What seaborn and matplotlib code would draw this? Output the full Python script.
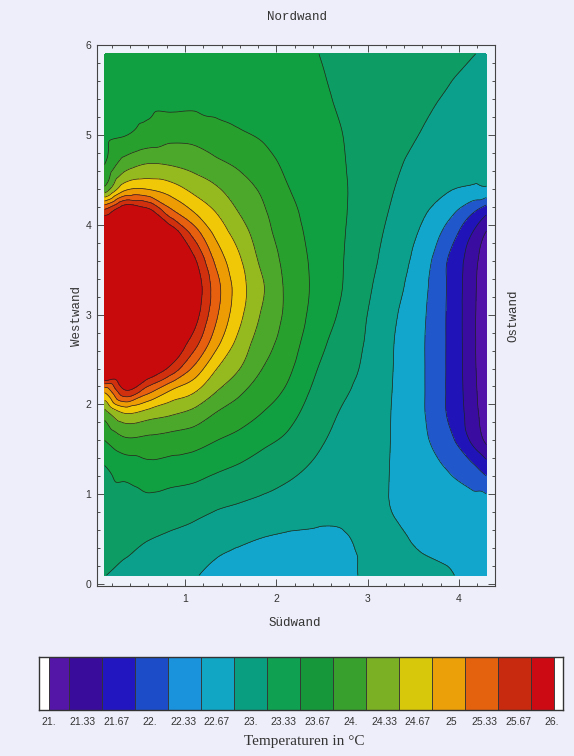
import numpy as np
import matplotlib
matplotlib.use("Agg")
import matplotlib.pyplot as plt
import matplotlib.tri as mtri
import seaborn as sns
from matplotlib.ticker import MultipleLocator

# ----------------------------
# Data
# ----------------------------

# grid positions (m): x along the Südwand, y along the Westwand
x_pos = [0.12, 0.35, 0.6, 0.85, 1.1, 1.35, 1.6, 1.85, 2.1, 2.4, 2.7, 3.0, 3.3, 3.6, 3.9, 4.15, 4.3]
y_pos = [0.1, 0.5, 0.9, 1.3, 1.6, 1.9, 2.15, 2.4, 2.7, 3.0, 3.3, 3.6, 3.9, 4.15, 4.4, 4.7, 5.0, 5.4, 5.9]

# temperature per column (bottom -> top), degrees C
t_x012 = [22.84, 22.96, 23.06, 23.15, 23.5, 24.02, 24.92, 26.9, 27.0, 27.0, 27.0, 26.9, 26.6, 25.61, 23.93, 23.47, 23.42, 23.37, 23.33]
t_x035 = [22.75, 22.92, 23.0, 23.32, 23.77, 24.5, 25.8, 26.4, 26.8, 27.0, 27.0, 26.9, 26.5, 26.2, 24.76, 23.96, 23.49, 23.4, 23.33]
t_x060 = [22.7, 22.84, 23.08, 23.42, 23.74, 24.35, 25.28, 26.2, 26.6, 26.8, 26.8, 26.7, 26.3, 25.95, 24.81, 24.13, 23.62, 23.42, 23.35]
t_x085 = [22.72, 22.79, 23.02, 23.38, 23.69, 24.21, 24.8, 25.73, 26.2, 26.5, 26.5, 26.4, 26.1, 25.24, 24.65, 24.1, 23.74, 23.4, 23.35]
t_x110 = [22.53, 22.72, 22.97, 23.33, 23.63, 24.06, 24.54, 25.09, 25.67, 26.0, 26.1, 25.9, 25.37, 24.81, 24.4, 24.02, 23.73, 23.42, 23.35]
t_x135 = [22.42, 22.6, 22.89, 23.22, 23.5, 23.81, 24.17, 24.5, 24.94, 25.2, 25.28, 25.06, 24.73, 24.47, 24.2, 23.88, 23.6, 23.43, 23.34]
t_x160 = [22.38, 22.54, 22.83, 23.13, 23.39, 23.66, 23.89, 24.17, 24.39, 24.58, 24.64, 24.54, 24.34, 24.14, 23.97, 23.76, 23.53, 23.42, 23.33]
t_x185 = [22.35, 22.49, 22.77, 23.03, 23.24, 23.49, 23.66, 23.83, 23.99, 24.12, 24.2, 24.08, 23.97, 23.88, 23.78, 23.61, 23.47, 23.4, 23.32]
t_x210 = [22.33, 22.46, 22.7, 22.94, 23.12, 23.31, 23.47, 23.6, 23.72, 23.79, 23.8, 23.76, 23.68, 23.61, 23.53, 23.45, 23.38, 23.33, 23.27]
t_x240 = [22.32, 22.45, 22.63, 22.8, 22.92, 23.03, 23.13, 23.22, 23.33, 23.42, 23.46, 23.45, 23.42, 23.4, 23.38, 23.34, 23.3, 23.25, 23.19]
t_x270 = [22.4, 22.47, 22.57, 22.66, 22.75, 22.82, 22.89, 22.96, 23.04, 23.13, 23.19, 23.2, 23.21, 23.22, 23.22, 23.2, 23.18, 23.13, 23.08]
t_x300 = [22.55, 22.55, 22.6, 22.64, 22.68, 22.71, 22.74, 22.77, 22.8, 22.83, 22.88, 22.93, 22.97, 23.0, 23.02, 23.03, 23.03, 23.02, 23.0]
t_x330 = [22.6, 22.55, 22.47, 22.46, 22.46, 22.46, 22.47, 22.48, 22.49, 22.53, 22.6, 22.66, 22.72, 22.78, 22.83, 22.88, 22.92, 22.94, 22.95]
t_x360 = [22.58, 22.45, 22.35, 22.28, 22.23, 22.2, 22.2, 22.2, 22.2, 22.22, 22.26, 22.33, 22.44, 22.55, 22.65, 22.74, 22.82, 22.87, 22.9]
t_x390 = [22.52, 22.42, 22.3, 22.13, 21.92, 21.77, 21.76, 21.76, 21.76, 21.76, 21.77, 21.78, 22.0, 22.26, 22.52, 22.65, 22.73, 22.81, 22.87]
t_x415 = [22.4, 22.36, 22.26, 21.9, 21.43, 21.32, 21.28, 21.26, 21.25, 21.25, 21.26, 21.3, 21.48, 21.88, 22.45, 22.6, 22.66, 22.74, 22.84]
t_x430 = [22.38, 22.3, 22.27, 21.67, 21.1, 20.95, 20.9, 20.85, 20.85, 20.85, 20.9, 20.95, 21.13, 21.6, 22.46, 22.58, 22.64, 22.72, 22.81]

# legend bands
band_values = [21.0, 21.333, 21.667, 22.0, 22.333, 22.667, 23.0, 23.333,
               23.667, 24.0, 24.333, 24.667, 25.0, 25.333, 25.667, 26.0]
band_labels = ["21.", "21.33", "21.67", "22.", "22.33", "22.67", "23.", "23.33",
               "23.67", "24.", "24.33", "24.67", "25", "25.33", "25.67", "26."]
# colours as printed in the legend strip
band_colors = ["#5416a6", "#3a0c9c", "#2216c0", "#1c4cc8", "#1a92dc", "#10a6c4",
               "#0a9e80", "#10a052", "#16983a", "#38a02c", "#7cb024", "#d8c80c",
               "#eba00a", "#e4620e", "#c82a10", "#cc0a14"]
# colours as they appear in the contour map
fill_colors = ["#5012a8", "#3a0ca0", "#2014b8", "#2058cc", "#12a6cc", "#0aa08c",
               "#0c9c64", "#10a042", "#28a02e", "#4ca82a", "#94ba20", "#f0c808",
               "#ee9c04", "#e66010", "#d0300e", "#c80a0c"]

# ----------------------------
# Figure
# ----------------------------
sns.set_theme(style="ticks")
plt.rcParams["font.family"] = ["Liberation Sans", "DejaVu Sans"]

temps = np.column_stack([t_x012, t_x035, t_x060, t_x085, t_x110, t_x135, t_x160, t_x185,
                         t_x210, t_x240, t_x270, t_x300, t_x330, t_x360, t_x390, t_x415, t_x430])

boundaries = list(np.array(band_values[:-1]) + 1 / 6)
fill_levels = [19.0] + boundaries + [29.0]

# triangulate the grid, cutting each cell along the local contour direction
nx, ny = len(x_pos), len(y_pos)
gx, gy = np.meshgrid(x_pos, y_pos)
triangles = []
for i in range(ny - 1):
    for j in range(nx - 1):
        ll, lr = i * nx + j, i * nx + j + 1
        ul, ur = ll + nx, lr + nx
        xc = 0.5 * (x_pos[j] + x_pos[j + 1])
        yc = 0.5 * (y_pos[i] + y_pos[i + 1])
        if xc < 3.1:
            falling = yc > 3.2
        else:
            falling = yc < 2.8
        if falling:
            triangles += [[ll, lr, ul], [lr, ur, ul]]
        else:
            triangles += [[ll, lr, ur], [ll, ur, ul]]
tri = mtri.Triangulation(gx.ravel(), gy.ravel(), triangles)
interp = mtri.CubicTriInterpolator(tri, temps.ravel(), kind="geom")
tri_fine, temps_fine = mtri.UniformTriRefiner(tri).refine_field(
    temps.ravel(), triinterpolator=interp, subdiv=4)

W, H = 574, 756
fig = plt.figure(figsize=(W / 100, H / 100), dpi=100, facecolor="#eeeefa")

ax = fig.add_axes([97 / W, 1 - 586 / H, 398 / W, 541 / H])
ax.set_facecolor("#eef2fb")
ax.tricontourf(tri_fine, temps_fine, levels=fill_levels, colors=fill_colors)
ax.tricontour(tri_fine, temps_fine, levels=boundaries, colors="#222222", linewidths=0.5)

ax.set_xlim(0.036, 4.395)
ax.set_ylim(-0.02, 6.0)
ax.set_xticks([1, 2, 3, 4])
ax.set_yticks(range(7))
ax.xaxis.set_minor_locator(MultipleLocator(0.2))
ax.yaxis.set_minor_locator(MultipleLocator(0.2))
ax.tick_params(which="both", direction="in", top=True, right=True,
               labelsize=7.5, colors="#333333", width=0.6)
ax.tick_params(which="major", length=5)
ax.tick_params(which="minor", length=2.5)
ax.tick_params(axis="x", pad=6)
ax.tick_params(axis="y", pad=4)
for sp in ax.spines.values():
    sp.set_color("#444444")
    sp.set_linewidth(0.8)

wall_font = dict(family=["Liberation Mono", "DejaVu Sans Mono"], size=9, color="#333333",
                 ha="center", va="center")
fig.text(297 / W, 1 - 17 / H, "Nordwand", **wall_font)
fig.text(295 / W, 1 - 623 / H, "Südwand", **wall_font)
fig.text(77 / W, 1 - 316 / H, "Westwand", rotation=90, **wall_font)
fig.text(513 / W, 1 - 316 / H, "Ostwand", rotation=90, **wall_font)

# ----------------------------
# Legend strip
# ----------------------------
cax = fig.add_axes([39 / W, 1 - 710 / H, 524 / W, 53 / H])
edges = np.concatenate([[20.9, 21.0], np.linspace(21.2, 25.79, 15), [26.02, 26.11]])
strip_colors = ["#ffffff"] + band_colors + ["#ffffff"]
cax.bar(edges[:-1], 1, width=np.diff(edges), align="edge", color=strip_colors,
        edgecolor="#333333", linewidth=0.6)
cax.set_xlim(20.9, 26.11)
cax.set_ylim(0, 1)
cax.set_yticks([])
cax.set_xticks(band_values)
cax.set_xticklabels(band_labels)
cax.tick_params(axis="x", length=0, labelsize=7.5, colors="#333333", pad=5)
for sp in cax.spines.values():
    sp.set_color("#333333")
    sp.set_linewidth(1.0)

fig.text(304 / W, 1 - 741 / H, "Temperaturen in °C",
         family=["Liberation Serif", "DejaVu Serif"], size=11, color="#333333",
         ha="center", va="center")

fig.savefig("out.png", dpi=100, facecolor=fig.get_facecolor())
